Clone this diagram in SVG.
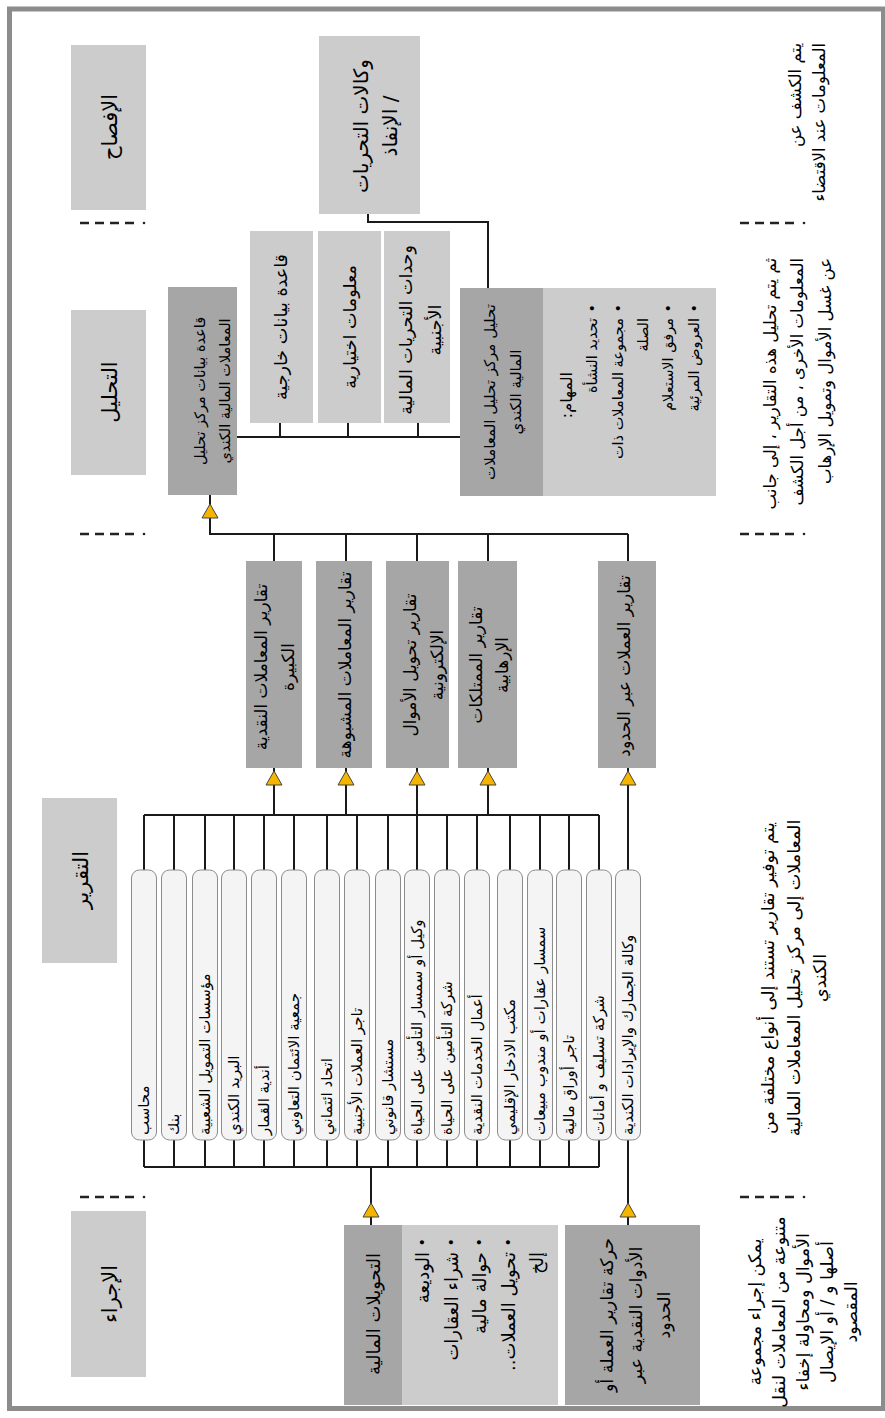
<svg xmlns="http://www.w3.org/2000/svg" width="885" height="1418" viewBox="0 0 885 1418">
<style>
.lt{fill:#cccccc}
.dk{fill:#a6a6a6}
.pill{fill:#f4f4f4;stroke:#8c8c8c;stroke-width:1}
.ln{stroke:#1a1a1a;stroke-width:2;fill:none}
.dash{stroke:#222;stroke-width:2.5;stroke-dasharray:9 6}
.dot{fill:#222}
.tri{fill:#f5b400;stroke:#444;stroke-width:1}
text{font-family:"DejaVu Sans",sans-serif;fill:#000;direction:rtl;dominant-baseline:central}
.h{font-size:21px;text-anchor:middle}
.b{font-size:17px;text-anchor:middle}
.p{font-size:15px;text-anchor:end}
.s{font-size:14.5px;text-anchor:start}
.n{font-size:16.5px}
</style>
<rect x="0" y="0" width="885" height="1418" fill="#ffffff"/>
<rect x="9.5" y="9" width="874" height="1399.5" fill="#ffffff" stroke="#8c8c8c" stroke-width="5"/>

<g id="separators">
<line class="dash" x1="80" y1="223" x2="135" y2="223"/><circle class="dot" cx="144" cy="223" r="1.3"/>
<line class="dash" x1="740" y1="223" x2="795" y2="223"/><circle class="dot" cx="804" cy="223" r="1.3"/>
<line class="dash" x1="80" y1="534" x2="135" y2="534"/><circle class="dot" cx="144" cy="534" r="1.3"/>
<line class="dash" x1="740" y1="534" x2="795" y2="534"/><circle class="dot" cx="804" cy="534" r="1.3"/>
<line class="dash" x1="80" y1="1197" x2="135" y2="1197"/><circle class="dot" cx="144" cy="1197" r="1.3"/>
<line class="dash" x1="740" y1="1197" x2="795" y2="1197"/><circle class="dot" cx="804" cy="1197" r="1.3"/>
</g>

<g id="hdr-disclosure"><rect class="lt" x="71" y="45" width="75" height="165"/><text class="h" transform="rotate(-90)" x="-127" y="110">الإفصاح</text></g>
<g id="hdr-analysis"><rect class="lt" x="71" y="310" width="75" height="165"/><text class="h" transform="rotate(-90)" x="-392" y="110">التحليل</text></g>
<g id="hdr-reporting"><rect class="lt" x="42" y="798" width="75" height="165"/><text class="h" transform="rotate(-90)" x="-880" y="81">التقرير</text></g>
<g id="hdr-transactions"><rect class="lt" x="71" y="1211" width="75" height="166"/><text class="h" transform="rotate(-90)" x="-1294" y="110">الإجراء</text></g>

<g id="connectors">
<path class="ln" d="M368,214 V222 H488 V288"/>
<path class="ln" d="M237,437 H460 M280,423 V437 M348,423 V437 M418,423 V437"/>
<path class="ln" d="M210,495 V534 H628 M274,534 V561 M346,534 V561 M417,534 V561 M488,534 V561 M628,534 V561"/>
<path class="ln" d="M274,768 V815 M346,768 V815 M417,768 V815 M488,768 V815 M628,768 V870"/>
<path class="ln" d="M144,815 H599 M144,815 V870 M174,815 V870 M205,815 V870 M234,815 V870 M264,815 V870 M294,815 V870 M327,815 V870 M357,815 V870 M388,815 V870 M417,815 V870 M447,815 V870 M477,815 V870 M510,815 V870 M540,815 V870 M569,815 V870 M599,815 V870"/>
<path class="ln" d="M144,1167 H599 M144,1140 V1167 M174,1140 V1167 M205,1140 V1167 M234,1140 V1167 M264,1140 V1167 M294,1140 V1167 M327,1140 V1167 M357,1140 V1167 M388,1140 V1167 M417,1140 V1167 M447,1140 V1167 M477,1140 V1167 M510,1140 V1167 M540,1140 V1167 M569,1140 V1167 M599,1140 V1167"/>
<path class="ln" d="M371,1167 V1225 M628,1140 V1225"/>
<polygon class="tri" points="210,504 202,518 218,518"/>
<polygon class="tri" points="274,771 266,785 282,785"/>
<polygon class="tri" points="346,771 338,785 354,785"/>
<polygon class="tri" points="417,771 409,785 425,785"/>
<polygon class="tri" points="488,771 480,785 496,785"/>
<polygon class="tri" points="628,771 620,785 636,785"/>
<polygon class="tri" points="371,1203 363,1217 379,1217"/>
<polygon class="tri" points="628,1203 620,1217 636,1217"/>
</g>

<g id="agencies"><rect class="lt" x="319" y="36" width="101" height="178"/><text class="b" transform="rotate(-90)" style="font-size:20px"><tspan x="-126" y="361">وكالات التحريات</tspan><tspan x="-126" y="390">/ الإنفاذ</tspan></text></g>

<g id="external-db"><rect class="lt" x="250" y="231" width="63" height="192"/><text class="b" transform="rotate(-90)" x="-327" y="281" style="font-size:17.5px">قاعدة بيانات خارجية</text></g>
<g id="voluntary-info"><rect class="lt" x="318" y="231" width="63" height="192"/><text class="b" transform="rotate(-90)" x="-327" y="350" style="font-size:17.5px">معلومات اختيارية</text></g>
<g id="foreign-fiu"><rect class="lt" x="384" y="231" width="66" height="192"/><text class="b" transform="rotate(-90)" style="font-size:17.5px"><tspan x="-330" y="406">وحدات التحريات المالية</tspan><tspan x="-330" y="435">الأجنبية</tspan></text></g>

<g id="fintrac-db"><rect class="dk" x="168" y="287" width="69" height="208"/><text class="b" transform="rotate(-90)" style="font-size:14.5px"><tspan x="-391" y="200">قاعدة بيانات مركز تحليل</tspan><tspan x="-391" y="225">المعاملات المالية الكندي</tspan></text></g>

<g id="fintrac-analysis"><rect class="dk" x="460" y="288" width="83" height="208"/><rect class="lt" x="543" y="288" width="173" height="208"/>
<text class="b" transform="rotate(-90)" style="font-size:15px"><tspan x="-392" y="490">تحليل مركز تحليل المعاملات</tspan><tspan x="-392" y="516">المالية الكندي</tspan></text>
<text class="s" transform="rotate(-90)" x="-372" y="566" style="font-size:16px">المهام:</text>
<text class="s" transform="rotate(-90)"><tspan x="-304" y="592">•</tspan><tspan x="-304" y="618">•</tspan><tspan x="-304" y="668">•</tspan><tspan x="-304" y="694">•</tspan></text>
<text class="s" transform="rotate(-90)"><tspan x="-318" y="592">تحديد النشأة</tspan><tspan x="-318" y="618">مجموعة المعاملات ذات</tspan><tspan x="-318" y="643">الصلة</tspan><tspan x="-318" y="668">مرفق الاستعلام</tspan><tspan x="-318" y="694">العروض المرئية</tspan></text>
</g>

<g id="rep-lctr"><rect class="dk" x="246" y="561" width="56" height="207"/><text class="b" transform="rotate(-90)"><tspan x="-667" y="261">تقارير المعاملات النقدية</tspan><tspan x="-667" y="288">الكبيرة</tspan></text></g>
<g id="rep-str"><rect class="dk" x="316" y="561" width="56" height="207"/><text class="b" transform="rotate(-90)" x="-665" y="345">تقارير المعاملات المشبوهة</text></g>
<g id="rep-eft"><rect class="dk" x="386" y="561" width="63" height="207"/><text class="b" transform="rotate(-90)"><tspan x="-665" y="410">تقارير تحويل الأموال</tspan><tspan x="-665" y="437">الإلكترونية</tspan></text></g>
<g id="rep-tpr"><rect class="dk" x="458" y="561" width="59" height="207"/><text class="b" transform="rotate(-90)"><tspan x="-665" y="476">تقارير الممتلكات</tspan><tspan x="-665" y="502">الإرهابية</tspan></text></g>
<g id="rep-cbcr"><rect class="dk" x="598" y="561" width="58" height="207"/><text class="b" transform="rotate(-90)" x="-666" y="624">تقارير العملات عبر الحدود</text></g>

<g id="entities">
<g id="e1"><rect class="pill" x="131.5" y="870" width="25" height="270" rx="8"/><text class="p" transform="rotate(-90)" x="-1135" y="144">محاسب</text></g>
<g id="e2"><rect class="pill" x="161.5" y="870" width="25" height="270" rx="8"/><text class="p" transform="rotate(-90)" x="-1135" y="174">بنك</text></g>
<g id="e3"><rect class="pill" x="192.5" y="870" width="25" height="270" rx="8"/><text class="p" transform="rotate(-90)" x="-1135" y="205">مؤسسات التمويل الشعبية</text></g>
<g id="e4"><rect class="pill" x="221.5" y="870" width="25" height="270" rx="8"/><text class="p" transform="rotate(-90)" x="-1135" y="234">البريد الكندي</text></g>
<g id="e5"><rect class="pill" x="251.5" y="870" width="25" height="270" rx="8"/><text class="p" transform="rotate(-90)" x="-1135" y="264">أندية القمار</text></g>
<g id="e6"><rect class="pill" x="281.5" y="870" width="25" height="270" rx="8"/><text class="p" transform="rotate(-90)" x="-1135" y="294">جمعية الائتمان التعاوني</text></g>
<g id="e7"><rect class="pill" x="314.5" y="870" width="25" height="270" rx="8"/><text class="p" transform="rotate(-90)" x="-1135" y="327">اتحاد ائتماني</text></g>
<g id="e8"><rect class="pill" x="344.5" y="870" width="25" height="270" rx="8"/><text class="p" transform="rotate(-90)" x="-1135" y="357">تاجر العملات الأجنبية</text></g>
<g id="e9"><rect class="pill" x="375.5" y="870" width="25" height="270" rx="8"/><text class="p" transform="rotate(-90)" x="-1135" y="388">مستشار قانوني</text></g>
<g id="e10"><rect class="pill" x="404.5" y="870" width="25" height="270" rx="8"/><text class="p" transform="rotate(-90)" x="-1135" y="417">وكيل أو سمسار التأمين على الحياة</text></g>
<g id="e11"><rect class="pill" x="434.5" y="870" width="25" height="270" rx="8"/><text class="p" transform="rotate(-90)" x="-1135" y="447">شركة التأمين على الحياة</text></g>
<g id="e12"><rect class="pill" x="464.5" y="870" width="25" height="270" rx="8"/><text class="p" transform="rotate(-90)" x="-1135" y="477">أعمال الخدمات النقدية</text></g>
<g id="e13"><rect class="pill" x="497.5" y="870" width="25" height="270" rx="8"/><text class="p" transform="rotate(-90)" x="-1135" y="510">مكتب الادخار الإقليمي</text></g>
<g id="e14"><rect class="pill" x="527.5" y="870" width="25" height="270" rx="8"/><text class="p" transform="rotate(-90)" x="-1135" y="540">سمسار عقارات أو مندوب مبيعات</text></g>
<g id="e15"><rect class="pill" x="556.5" y="870" width="25" height="270" rx="8"/><text class="p" transform="rotate(-90)" x="-1135" y="569">تاجر أوراق مالية</text></g>
<g id="e16"><rect class="pill" x="586.5" y="870" width="25" height="270" rx="8"/><text class="p" transform="rotate(-90)" x="-1135" y="599">شركة تسليف و أمانات</text></g>
<g id="e17"><rect class="pill" x="615.5" y="870" width="25" height="270" rx="8"/><text class="p" transform="rotate(-90)" x="-1135" y="628">وكالة الجمارك والإيرادات الكندية</text></g>
</g>

<g id="financial-transactions"><rect class="dk" x="344" y="1225" width="58" height="180"/><rect class="lt" x="402" y="1225" width="156" height="180"/>
<text class="b" transform="rotate(-90)" x="-1314" y="373" style="font-size:18px">التحويلات المالية</text>
<text class="s" transform="rotate(-90)"><tspan x="-1238" y="422">•</tspan><tspan x="-1238" y="451">•</tspan><tspan x="-1238" y="479">•</tspan><tspan x="-1238" y="508">•</tspan></text>
<text class="s" transform="rotate(-90)" style="font-size:18px"><tspan x="-1252" y="422">الوديعة</tspan><tspan x="-1252" y="451">شراء العقارات</tspan><tspan x="-1252" y="479">حوالة مالية</tspan><tspan x="-1252" y="508">تحويل العملات..</tspan><tspan x="-1252" y="536">إلخ</tspan></text>
</g>

<g id="cross-border"><rect class="dk" x="565" y="1225" width="135" height="180"/><text class="b" transform="rotate(-90)" style="font-size:17.5px"><tspan x="-1315" y="607">حركة تقارير العملة أو</tspan><tspan x="-1315" y="636">الأدوات النقدية عبر</tspan><tspan x="-1315" y="664">الحدود</tspan></text></g>

<g id="notes">
<text class="n" transform="rotate(-90)" style="text-anchor:start"><tspan x="-43" y="795">يتم الكشف عن</tspan><tspan x="-43" y="819">المعلومات عند الاقتضاء</tspan></text>
<text class="n" transform="rotate(-90)" style="text-anchor:start"><tspan x="-258" y="770">ثم يتم تحليل هذه التقارير ، إلى جانب</tspan><tspan x="-258" y="797">المعلومات الأخرى ، من أجل الكشف</tspan><tspan x="-258" y="825">عن غسل الأموال وتمويل الإرهاب</tspan></text>
<text class="n" transform="rotate(-90)" style="text-anchor:middle;font-size:17.5px"><tspan x="-978" y="768">يتم توفير تقارير تستند إلى أنواع مختلفة من</tspan><tspan x="-978" y="794">المعاملات إلى مركز تحليل المعاملات المالية</tspan><tspan x="-978" y="820">الكندي</tspan></text>
<text class="n" transform="rotate(-90)" style="text-anchor:middle;font-size:17.5px"><tspan x="-1312" y="755">يمكن إجراء مجموعة</tspan><tspan x="-1312" y="779">متنوعة من المعاملات لنقل</tspan><tspan x="-1312" y="803">الأموال ومحاولة إخفاء</tspan><tspan x="-1312" y="827">أصلها و / أو الإيصال</tspan><tspan x="-1312" y="851">المقصود</tspan></text>
</g>
</svg>
